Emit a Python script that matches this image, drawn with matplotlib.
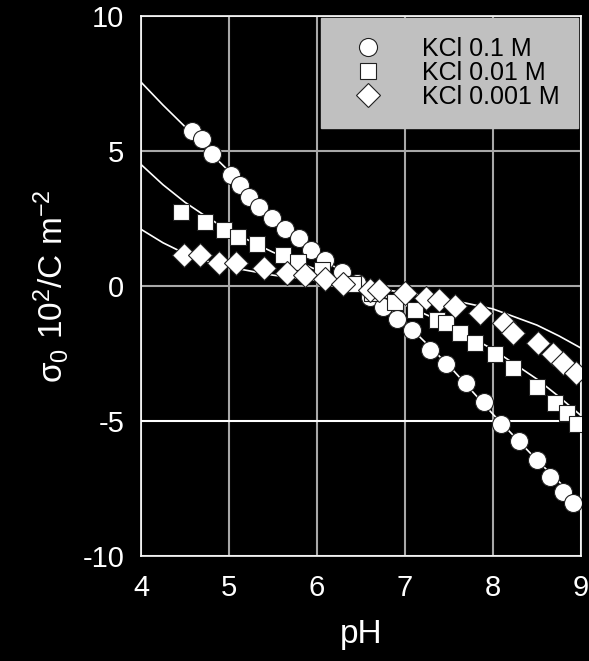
import matplotlib
matplotlib.use('Agg')
import matplotlib.pyplot as plt

plt.rcParams['font.family'] = ['Liberation Sans', 'DejaVu Sans']
plt.rcParams['mathtext.fontset'] = 'custom'
plt.rcParams['mathtext.rm'] = 'Liberation Sans'
plt.rcParams['mathtext.it'] = 'Liberation Sans'
plt.rcParams['mathtext.default'] = 'regular'
plt.rcParams['axes.unicode_minus'] = False

# измеренные точки
ph_01 = [4.58, 4.69, 4.81, 5.02, 5.12, 5.23, 5.34, 5.49, 5.64, 5.79, 5.93, 6.09, 6.28,
         6.45, 6.60, 6.75, 6.91, 7.08, 7.28, 7.47, 7.69, 7.90, 8.09, 8.29, 8.50, 8.65,
         8.79, 8.91]
s_01 = [5.75, 5.43, 4.89, 4.10, 3.73, 3.30, 2.91, 2.51, 2.12, 1.77, 1.33, 0.95, 0.53,
        0.10, -0.40, -0.77, -1.23, -1.63, -2.37, -2.89, -3.60, -4.28, -5.11, -5.73,
        -6.44, -7.09, -7.62, -8.02]

ph_001 = [4.46, 4.73, 4.94, 5.10, 5.32, 5.61, 5.78, 6.06, 6.41, 6.62, 6.89, 7.11, 7.36,
          7.47, 7.62, 7.80, 8.02, 8.23, 8.50, 8.70, 8.84, 8.95]
s_001 = [2.75, 2.38, 2.07, 1.83, 1.56, 1.15, 0.90, 0.59, 0.07, -0.27, -0.58, -0.89,
         -1.26, -1.38, -1.73, -2.10, -2.52, -3.05, -3.73, -4.35, -4.72, -5.11]

ph_0001 = [4.49, 4.67, 4.89, 5.08, 5.40, 5.66, 5.86, 6.09, 6.29, 6.60, 6.70, 7.00, 7.24,
           7.39, 7.57, 7.85, 8.12, 8.23, 8.51, 8.68, 8.80, 8.94]
s_0001 = [1.15, 1.15, 0.86, 0.86, 0.65, 0.49, 0.39, 0.26, 0.08, -0.15, -0.15, -0.27,
          -0.46, -0.52, -0.74, -1.01, -1.38, -1.75, -2.12, -2.52, -2.86, -3.23]

# расчетные кривые
ph_fit = [4.0, 4.25, 4.5, 4.75, 5.0, 5.5, 6.0, 6.5, 7.0, 7.5, 8.0, 8.5, 8.75, 9.0]
fit_01 = [7.55, 6.7, 5.9, 5.05, 4.25, 2.55, 1.15, 0.05, -1.35, -2.95, -4.75, -6.45,
          -7.25, -8.05]
fit_001 = [4.5, 3.75, 3.1, 2.55, 2.05, 1.25, 0.6, 0.0, -0.7, -1.45, -2.35, -3.45, -4.1,
           -4.8]
fit_0001 = [2.1, 1.6, 1.2, 0.92, 0.7, 0.4, 0.2, 0.0, -0.25, -0.5, -0.85, -1.45, -1.85,
            -2.3]

labels = ['KCl 0.1 M', 'KCl 0.01 M', 'KCl 0.001 M']

fig = plt.figure(figsize=(5.89, 6.61), dpi=100, facecolor='black')
ax = fig.add_axes([0.2394, 0.1589, 0.747, 0.8169])
ax.set_facecolor('black')

ax.grid(True, color='#a8a8a8', lw=1.5)
ax.set_axisbelow(True)

for yf in (fit_01, fit_001, fit_0001):
    ax.plot(ph_fit, yf, color='white', lw=1.2, zorder=2)

ax.plot(ph_01, s_01, 'o', ms=13, mfc='white', mec='#202020', mew=0.8, ls='none',
        label=labels[0], zorder=3)
ax.plot(ph_001, s_001, 's', ms=12, mfc='white', mec='#202020', mew=0.8, ls='none',
        label=labels[1], zorder=3)
ax.plot(ph_0001, s_0001, 'D', ms=12.5, mfc='white', mec='#202020', mew=0.8, ls='none',
        label=labels[2], zorder=3)

ax.set_xlim(4, 9)
ax.set_ylim(-10, 10)
ax.set_xticks([4, 5, 6, 7, 8, 9])
ax.set_yticks([-10, -5, 0, 5, 10])
ax.get_ygridlines()[1].set_color('white')
ax.tick_params(colors='white', length=0, labelsize=21)
ax.tick_params(axis='x', pad=13)
ax.tick_params(axis='y', pad=12)
for sp in ax.spines.values():
    sp.set_color('white')
    sp.set_linewidth(1.2)

ax.set_xlabel('pH', color='white', fontsize=24, labelpad=12)
ax.set_ylabel('σ$_0$ 10$^2$/C m$^{-2}$', color='white', fontsize=24, labelpad=8)

leg = ax.legend(loc='upper right', fontsize=18, facecolor='#c0c0c0', edgecolor='#c0c0c0',
                framealpha=1, fancybox=False, borderaxespad=0.1, handletextpad=1.0,
                handlelength=2.3, labelspacing=0.0, borderpad=0.75)
leg.set_zorder(5)

fig.savefig('out.png', dpi=100, facecolor='black')
